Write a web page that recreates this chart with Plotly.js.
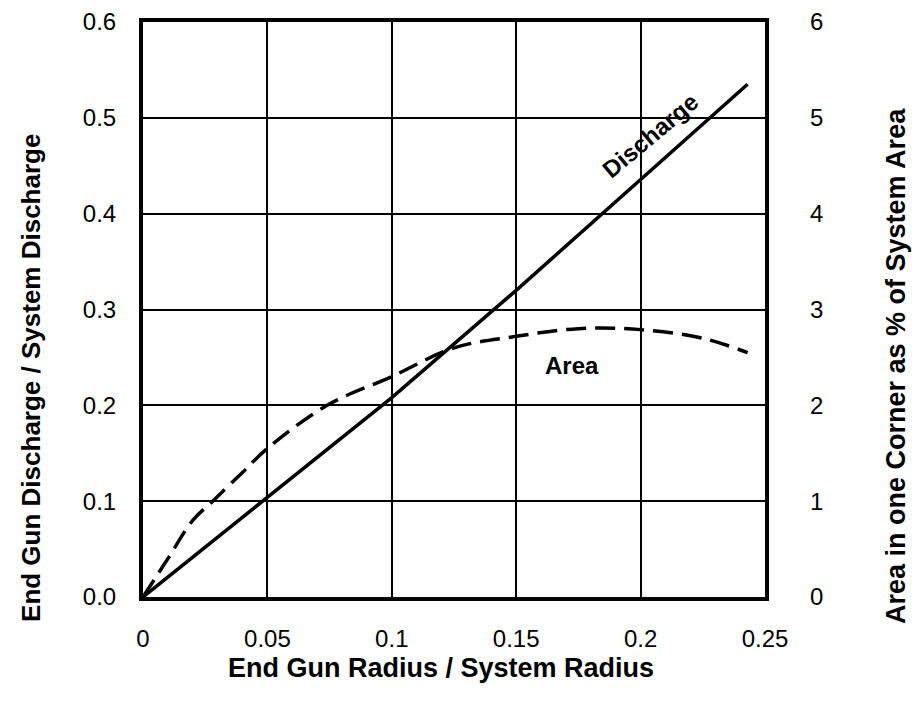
<!DOCTYPE html>
<html>
<head>
<meta charset="utf-8">
<script src="https://cdn.plot.ly/plotly-3.0.1.min.js"></script>
<style>html,body{margin:0;padding:0;background:#fff;}#chart{width:917px;height:715px;}</style>
</head>
<body>
<div id="chart"></div>
<script>
// Discharge ratio (left axis)
const dischargeX = [0, 0.05, 0.1, 0.15, 0.2, 0.243];
const dischargeY = [0, 0.104, 0.208, 0.32, 0.435, 0.535];
// Area in one corner, % of system area (right axis)
const areaX = [0, 0.01, 0.02, 0.028, 0.04, 0.05, 0.074, 0.1, 0.125, 0.15, 0.175, 0.2, 0.225, 0.243];
const areaY = [0, 0.4, 0.8, 1.0, 1.3, 1.55, 2.0, 2.3, 2.6, 2.72, 2.8, 2.79, 2.7, 2.55];
const xTicks = [0, 0.05, 0.1, 0.15, 0.2, 0.25];
const xTickText = ["0", "0.05", "0.1", "0.15", "0.2", "0.25"];
const yTicks = [0, 0.1, 0.2, 0.3, 0.4, 0.5, 0.6];
const yTickText = ["0.0", "0.1", "0.2", "0.3", "0.4", "0.5", "0.6"];
const y2Ticks = [0, 1, 2, 3, 4, 5, 6];
const y2TickText = ["0", "1", "2", "3", "4", "5", "6"];
const xTitle = "End Gun Radius / System Radius";
const yTitle = "End Gun Discharge / System Discharge";
const y2Title = "Area in one Corner as % of System Area";

const fontFam = "Liberation Sans, Arial, sans-serif";
const traces = [
  {x: dischargeX, y: dischargeY, mode: "lines", line: {color: "#000", width: 3.5}, yaxis: "y", name: "Discharge"},
  {x: areaX, y: areaY, mode: "lines", line: {color: "#000", width: 3.5, dash: "20px,9px", shape: "spline"}, yaxis: "y2", name: "Area"}
];
const layout = {
  width: 917, height: 715,
  margin: {l: 143, r: 152, t: 22, b: 118},
  paper_bgcolor: "#fff", plot_bgcolor: "#fff",
  showlegend: false,
  font: {family: fontFam, color: "#000", size: 24},
  xaxis: {
    range: [0, 0.25], tickvals: xTicks, ticktext: xTickText,
    showgrid: true, gridcolor: "#000", gridwidth: 2, zeroline: false,
    showline: true, linecolor: "#000", linewidth: 4, mirror: true,
    ticks: "", ticklabelstandoff: 17,
    tickfont: {size: 24, family: fontFam}
  },
  yaxis: {
    range: [0, 0.6], tickvals: yTicks, ticktext: yTickText,
    showgrid: true, gridcolor: "#000", gridwidth: 2, zeroline: false,
    showline: true, linecolor: "#000", linewidth: 4, mirror: true,
    ticks: "", ticklabelstandoff: 18,
    tickfont: {size: 24, family: fontFam}
  },
  yaxis2: {
    range: [0, 6], tickvals: y2Ticks, ticktext: y2TickText,
    overlaying: "y", side: "right", showgrid: false, zeroline: false,
    showline: false, ticks: "", ticklabelstandoff: 44,
    tickfont: {size: 24, family: fontFam}
  },
  annotations: [
    {x: 0.479, y: -0.1235, xref: "paper", yref: "paper", xanchor: "center", yanchor: "middle", text: "<b>" + xTitle + "</b>", showarrow: false, font: {size: 27, family: fontFam}},
    {x: -0.18, y: 0.381, xref: "paper", yref: "paper", xanchor: "center", yanchor: "middle", text: "<b>" + yTitle + "</b>", showarrow: false, textangle: -90, font: {size: 26, family: fontFam}},
    {x: 1.2106, y: 0.4017, xref: "paper", yref: "paper", xanchor: "center", yanchor: "middle", text: "<b>" + y2Title + "</b>", showarrow: false, textangle: -90, font: {size: 27, family: fontFam}},
    {x: 0.2038, y: 0.482, xref: "x", yref: "y", xanchor: "center", yanchor: "middle", text: "<b>Discharge</b>", showarrow: false, textangle: -40, font: {size: 24, family: fontFam}},
    {x: 0.1724, y: 0.242, xref: "x", yref: "y", xanchor: "center", yanchor: "middle", text: "<b>Area</b>", showarrow: false, font: {size: 24, family: fontFam}}
  ]
};
Plotly.newPlot("chart", traces, layout, {displayModeBar: false, staticPlot: true});
</script>
</body>
</html>
